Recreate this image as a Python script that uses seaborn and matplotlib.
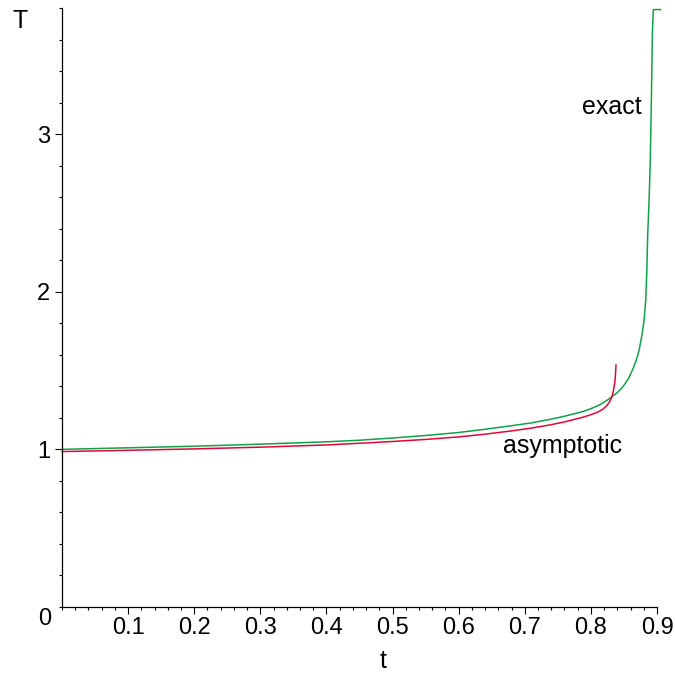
import numpy as np
import pandas as pd
import seaborn as sns
import matplotlib.pyplot as plt
from matplotlib.ticker import MultipleLocator

# points
t_exact = [0.0, 0.1, 0.2, 0.3, 0.4, 0.45, 0.5, 0.55, 0.6, 0.637, 0.68, 0.71,
           0.738, 0.76, 0.788, 0.80, 0.814, 0.826, 0.84, 0.849, 0.857, 0.864,
           0.869, 0.873, 0.877, 0.8805, 0.883, 0.8845, 0.886, 0.888, 0.8896,
           0.8915, 0.893, 0.8945, 0.9057]
T_exact = [1.0, 1.01, 1.02, 1.033, 1.048, 1.058, 1.072, 1.088, 1.107, 1.126,
           1.15, 1.168, 1.19, 1.21, 1.24, 1.258, 1.284, 1.316, 1.36, 1.40,
           1.45, 1.515, 1.57, 1.63, 1.72, 1.82, 1.95, 2.12, 2.37, 2.58, 2.79,
           3.22, 3.64, 3.79, 3.79]

t_asym = [0.0, 0.1, 0.2, 0.3, 0.4, 0.451, 0.5, 0.55, 0.6, 0.637, 0.68, 0.71,
          0.738, 0.76, 0.788, 0.80, 0.81, 0.818, 0.824, 0.828, 0.8315, 0.834,
          0.836, 0.837, 0.838]
T_asym = [0.986, 0.994, 1.003, 1.014, 1.028, 1.039, 1.05, 1.063, 1.079,
          1.095, 1.117, 1.135, 1.155, 1.174, 1.204, 1.22, 1.236, 1.254, 1.277,
          1.30, 1.33, 1.37, 1.42, 1.46, 1.537]

df = pd.concat([
    pd.DataFrame({"t": t_exact, "T": T_exact, "curve": "exact"}),
    pd.DataFrame({"t": t_asym, "T": T_asym, "curve": "asymptotic"}),
])

sns.set_style("white")
plt.rcParams["font.family"] = ["Liberation Sans", "DejaVu Sans"]
plt.rcParams["text.color"] = "black"
plt.rcParams["xtick.color"] = "black"
plt.rcParams["ytick.color"] = "black"

fig = plt.figure(figsize=(6.75, 6.73), dpi=100)
ax = fig.add_axes([62 / 675, 1 - 607 / 673, 595 / 675, 599 / 673])

sns.lineplot(data=df, x="t", y="T", hue="curve", sort=False, estimator=None,
             palette={"exact": "#12a04a", "asymptotic": "#e0083a"},
             linewidth=1.1, legend=False, ax=ax)
for ln in ax.lines:
    ln.set_clip_on(False)

ax.set_xlim(0, 0.9)
ax.set_ylim(0, 3.8)
for s in ["top", "right"]:
    ax.spines[s].set_visible(False)
for s in ["left", "bottom"]:
    ax.spines[s].set_linewidth(0.9)
    ax.spines[s].set_color("black")

ax.set_xticks([0.1, 0.2, 0.3, 0.4, 0.5, 0.6, 0.7, 0.8, 0.9])
ax.set_xticklabels(["0.1", "0.2", "0.3", "0.4", "0.5", "0.6", "0.7", "0.8", "0.9"])
ax.set_yticks([1, 2, 3])
ax.set_yticklabels(["1", "2", "3"])
ax.xaxis.set_minor_locator(MultipleLocator(0.02))
ax.yaxis.set_minor_locator(MultipleLocator(0.2))
ax.tick_params(which="major", direction="out", length=5, width=0.8,
               labelsize=17, bottom=True, left=True)
ax.tick_params(axis="x", which="major", pad=2)
ax.tick_params(axis="y", which="major", pad=3.5)
ax.tick_params(which="minor", direction="out", length=2.5, width=0.8,
               bottom=True, left=True)
ax.set_xlabel("")
ax.set_ylabel("")

ax.text(-0.026, -0.075, "0", fontsize=17, ha="center", va="center")
fig.text(20 / 675, 1 - 21 / 673, "T", fontsize=18, ha="center", va="center")
fig.text(383 / 675, 1 - 661 / 673, "t", fontsize=18, ha="center", va="center")
ax.text(0.831, 3.17, "exact", fontsize=18, ha="center", va="center")
ax.text(0.757, 1.02, "asymptotic", fontsize=18, ha="center", va="center")

fig.savefig("out.png", dpi=100)
